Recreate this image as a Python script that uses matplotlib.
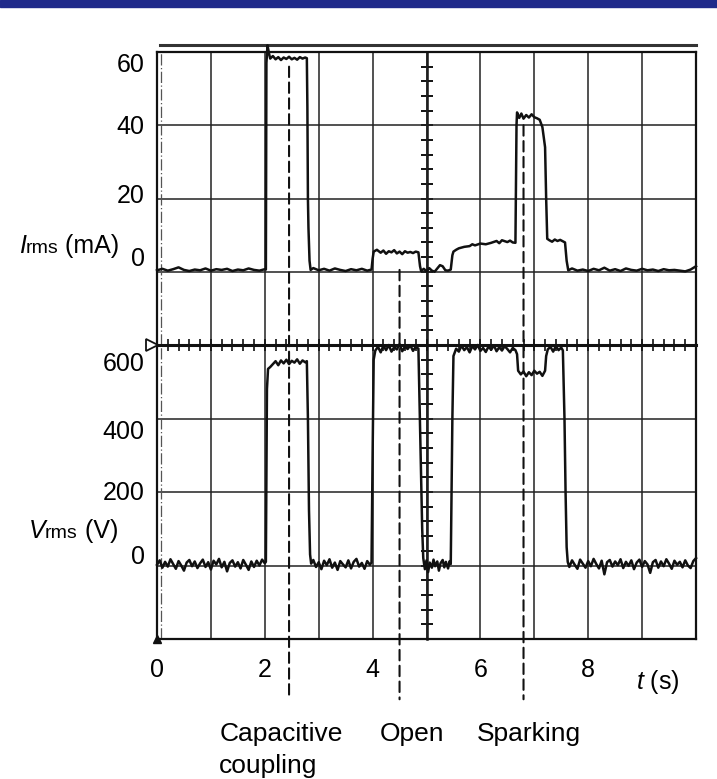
import matplotlib
matplotlib.use('Agg')
import matplotlib.pyplot as plt
from matplotlib.ticker import MultipleLocator
from matplotlib.patches import Rectangle, ConnectionPatch
from matplotlib.offsetbox import TextArea, HPacker, AnnotationBbox
from matplotlib.transforms import blended_transform_factory

plt.rcParams['font.family'] = ['Liberation Sans', 'DejaVu Sans']
plt.rcParams['mathtext.fontset'] = 'custom'
plt.rcParams['mathtext.it'] = 'Liberation Sans:italic'
plt.rcParams['mathtext.rm'] = 'Liberation Sans'

# current trace, Irms (mA) vs t (s)
t_cur = [0.0, 0.1, 0.2, 0.3, 0.4, 0.5, 0.6, 0.7, 0.8, 0.9, 1.0, 1.1, 1.2, 1.3, 1.4, 1.5, 1.6, 1.7, 1.8, 1.9, 2.0,
         2.02, 2.03, 2.05, 2.08, 2.1, 2.15, 2.2, 2.25, 2.3, 2.35, 2.4, 2.45, 2.5, 2.55, 2.6, 2.65, 2.7, 2.75, 2.78,
         2.79, 2.80, 2.81, 2.83, 2.85,
         2.9, 3.0, 3.1, 3.2, 3.3, 3.4, 3.5, 3.6, 3.7, 3.8, 3.9, 3.98,
         4.0, 4.02, 4.08, 4.15, 4.2, 4.25, 4.3, 4.35, 4.4, 4.45, 4.5, 4.55, 4.6, 4.65, 4.7, 4.75, 4.8, 4.85,
         4.88, 4.9, 4.95, 5.0, 5.05, 5.1, 5.15, 5.2, 5.25, 5.3, 5.35, 5.4, 5.45,
         5.48, 5.5, 5.55, 5.6, 5.7, 5.8, 5.85, 5.9, 6.0, 6.1, 6.2, 6.3, 6.35, 6.4, 6.5, 6.55, 6.6, 6.65,
         6.67, 6.68, 6.72, 6.76, 6.8, 6.85, 6.9, 6.95, 7.0, 7.05, 7.1, 7.15, 7.2, 7.22, 7.24, 7.28, 7.33, 7.38,
         7.43, 7.48, 7.53, 7.57, 7.6, 7.63,
         7.7, 7.8, 7.9, 8.0, 8.1, 8.2, 8.3, 8.4, 8.5, 8.6, 8.7, 8.8, 8.9, 9.0, 9.1, 9.2, 9.3, 9.4, 9.5, 9.6,
         9.7, 9.8, 9.9, 10.0]
i_cur = [0.4, 0.8, 0.3, 0.7, 1.2, 0.5, 0.2, 0.6, 0.4, 0.9, 0.3, 0.7, 0.5, 0.8, 0.2, 0.6, 0.4, 0.9, 0.5, 0.3, 0.7,
         0.6, 57.0, 61.8, 59.5, 58.2, 58.9, 58.0, 58.6, 57.8, 58.5, 58.1, 58.7, 58.0, 58.4, 57.9, 58.6, 58.2, 58.5, 58.3,
         45.0, 20.0, 12.0, 3.0, 0.5,
         1.0, 0.4, 0.8, 0.3, 0.9, 0.5, 0.2, 0.7, 0.4, 0.8, 0.3, 0.6,
         3.5, 5.5, 6.0, 5.2, 5.8, 4.9, 5.6, 5.3, 5.9, 5.0, 5.5, 4.8, 5.6, 5.2, 5.4, 5.1, 5.5, 5.3,
         1.5, 0.2, 0.8, 0.1, 1.0, 0.3, 0.0, 0.9, 1.8, 1.5, 0.4, 0.3, 0.6,
         4.5, 5.5, 6.0, 6.4, 6.8, 7.0, 7.5, 7.2, 7.7, 7.5, 7.9, 8.4, 7.8, 8.6, 8.1, 8.5, 8.0, 7.9,
         40.0, 43.5, 42.0, 43.2, 41.8, 42.8, 42.1, 43.0, 42.2, 41.9, 41.5, 39.5, 34.0, 20.0, 9.0, 8.6, 8.2, 8.8,
         8.4, 8.7, 8.3, 8.0, 3.0, 0.4,
         0.9, 0.3, 0.6, 0.2, 0.8, 0.4, 1.1, 0.3, 0.7, 0.2, 0.9, 0.5, 0.3, 0.8, 0.4, 0.6, 0.2, 0.7, 0.4, 0.5,
         0.3, 0.1, 0.6, 1.5]

# voltage trace, Vrms (V) vs t (s)
t_volt = [0.0, 0.05, 0.1, 0.15, 0.2, 0.25, 0.3, 0.35, 0.4, 0.45, 0.5, 0.55, 0.6, 0.65, 0.7, 0.75, 0.8, 0.85,
          0.9, 0.95, 1.0, 1.05, 1.1, 1.15, 1.2, 1.25, 1.3, 1.35, 1.4, 1.45, 1.5, 1.55, 1.6, 1.65, 1.7, 1.75,
          1.8, 1.85, 1.9, 1.95, 2.0,
          2.02, 2.04, 2.06, 2.1, 2.15, 2.2, 2.25, 2.3, 2.35, 2.4, 2.45, 2.5, 2.55, 2.6, 2.65, 2.7, 2.75, 2.78,
          2.8, 2.82, 2.84, 2.86,
          2.9, 2.95, 3.0, 3.05, 3.1, 3.15, 3.2, 3.25, 3.3, 3.35, 3.4, 3.45, 3.5, 3.55, 3.6, 3.65, 3.7, 3.75,
          3.8, 3.85, 3.9, 3.95, 3.98,
          4.0, 4.02, 4.05, 4.1, 4.15, 4.2, 4.25, 4.3, 4.35, 4.4, 4.45, 4.5, 4.55, 4.6, 4.65, 4.7, 4.75, 4.8, 4.85,
          4.87, 4.9, 4.92, 4.94,
          4.97, 5.0, 5.03, 5.06, 5.1, 5.13, 5.16, 5.2, 5.23, 5.26, 5.3, 5.33, 5.36, 5.4, 5.43, 5.45,
          5.48, 5.5, 5.55, 5.6, 5.65, 5.7, 5.75, 5.8, 5.85, 5.9, 5.95, 6.0, 6.05, 6.1, 6.15, 6.2, 6.25, 6.3,
          6.35, 6.4, 6.45, 6.5, 6.55, 6.6, 6.65, 6.68,
          6.7, 6.75, 6.8, 6.85, 6.9, 6.95, 7.0, 7.05, 7.1, 7.15, 7.2, 7.22,
          7.25, 7.3, 7.35, 7.4, 7.45, 7.5, 7.53,
          7.56, 7.58, 7.6, 7.62,
          7.65, 7.7, 7.75, 7.8, 7.85, 7.9, 7.95, 8.0, 8.05, 8.1, 8.15, 8.2, 8.25, 8.3, 8.35, 8.4, 8.45, 8.5,
          8.55, 8.6, 8.65, 8.7, 8.75, 8.8, 8.85, 8.9, 8.95, 9.0, 9.05, 9.1, 9.15, 9.2, 9.25, 9.3, 9.35, 9.4,
          9.45, 9.5, 9.55, 9.6, 9.65, 9.7, 9.75, 9.8, 9.85, 9.9, 9.95, 10.0]
v_volt = [2, 14, -6, 10, -3, 17, 4, -9, 12, 0, -14, 8, 15, -2, 11, -7, 6, 16,
          -4, 9, -11, 13, 3, 18, -5, 10, -16, 7, 14, -3, 9, -8, 15, 2, -12, 11,
          -4, 13, 0, 16, 6,
          10, 480, 535, 540, 548, 556, 545, 558, 550, 560, 548, 557, 552, 561, 549, 558, 553, 556,
          400, 150, 30, 5,
          15, -4, 9, -10, 13, 1, 17, -6, 8, -12, 12, 3, -5, 14, -8, 10, 18, -3,
          7, -9, 12, 2, 8,
          300, 560, 585, 595, 580, 598, 586, 600, 582, 594, 588, 602, 583, 596, 589, 599, 584, 595, 590,
          450, 250, 100, 20,
          -10, 14, -18, 8, -6, 16, -2, 11, -14, 6, 15, -5, 10, -8, 12, 4,
          400, 570, 590, 582, 598, 586, 594, 580, 597, 588, 600, 584, 592, 581, 596, 587, 599, 583,
          594, 585, 597, 589, 580, 592, 586, 575,
          530, 520, 528, 515, 526, 518, 530, 522, 527, 516, 530, 570,
          588, 595, 582, 597, 586, 593, 585,
          400, 200, 50, 10,
          -4, 14, 2, -9, 16, 5, -6, 12, -2, 18, 4, -8, 13, -24, 9, 15, -3, 11,
          1, 17, -7, 10, -1, 14, -10, 8, 16, -4, 12, 3, -20, 9, 15, -6, 11, -2,
          17, 5, -9, 13, 2, 10, -5, 14, 0, -7, 12, 20]
assert len(t_volt) == len(v_volt) and len(t_cur) == len(i_cur)

i_ticks = [0, 20, 40, 60]
i_tick_dy = [9, 2, -1.5, -9.5]        # label nudges in points
v_ticks = [0, 200, 400, 600]
v_tick_dy = [6, -0.5, -9.5, -14]
t_ticks = [0, 2, 4, 6, 8]

events = ['Capacitive\ncoupling', 'Open', 'Sparking']
event_t = [2.45, 4.5, 6.8]
event_top = [56, 0.5, 40]      # mA, where the dashed marker starts
event_label_t = [2.30, 4.73, 6.90]

FS = 18
INK = '#111111'

fig = plt.figure(figsize=(7.17, 7.79), dpi=100)
fig.patches.append(Rectangle((0, 1 - 7 / 779), 1, 7 / 779, transform=fig.transFigure,
                             color='#1f2a8a', zorder=0))

L, W = 157 / 717, (696 - 157) / 717
ax1 = fig.add_axes([L, 1 - 345 / 779, W, 293 / 779])
ax2 = fig.add_axes([L, 1 - 639 / 779, W, 294 / 779])

for ax in (ax1, ax2):
    ax.set_xlim(0, 10)
    ax.set_xticks(range(11))
    ax.grid(True, which='major', color='#222222', lw=1.1)
    for sp in ax.spines.values():
        sp.set_linewidth(1.6)
        sp.set_color(INK)
    ax.tick_params(axis='y', length=0, labelleft=False)
    # trigger line near t=0
    ax.axvline(0.075, color='#555555', lw=0.9, ls=(0, (9, 2, 1, 2)))

ax1.set_ylim(-20, 60)
ax1.set_yticks(range(-20, 61, 20))
ax1.tick_params(axis='x', bottom=False, labelbottom=False)
ax1.spines['bottom'].set_visible(False)

ax2.set_ylim(-200, 600)
ax2.set_yticks(range(-200, 601, 200))
ax2.set_xticklabels([str(t) if t in t_ticks else '' for t in range(11)], fontsize=FS)
ax2.xaxis.set_minor_locator(MultipleLocator(0.2))
ax2.tick_params(axis='x', which='both', bottom=False, top=True, direction='inout',
                length=9, width=1.2, color=INK, labelbottom=True, pad=9)
ax2.spines['top'].set_linewidth(2.2)

# center vertical line with small ticks
for ax, major, minor in ((ax1, 20, 4), (ax2, 200, 40)):
    sec = ax.secondary_yaxis(0.5)
    sec.yaxis.set_major_locator(MultipleLocator(major))
    sec.yaxis.set_minor_locator(MultipleLocator(minor))
    sec.tick_params(which='both', direction='inout', length=8, width=1.4, color=INK,
                    labelleft=False, labelright=False)
    for sp in sec.spines.values():
        sp.set_linewidth(1.8)
        sp.set_color(INK)

ax1.plot(t_cur, i_cur, color=INK, lw=1.8, clip_on=False, zorder=5)
ax2.plot(t_volt, v_volt, color=INK, lw=1.8, clip_on=False, zorder=5)

# y tick labels
for v, dy in zip(i_ticks, i_tick_dy):
    ax1.annotate(str(v), xy=(0, v), xycoords=('axes fraction', 'data'), xytext=(-9, dy),
                 textcoords='offset points', ha='right', va='center', fontsize=FS)
for v, dy in zip(v_ticks, v_tick_dy):
    ax2.annotate(str(v), xy=(0, v), xycoords=('axes fraction', 'data'), xytext=(-9, dy),
                 textcoords='offset points', ha='right', va='center', fontsize=FS)

# axis labels
def unit_label(ax, sym, unit, yval, dx):
    box = HPacker(children=[TextArea(sym, textprops=dict(fontsize=FS, style='italic')),
                            TextArea('rms', textprops=dict(fontsize=FS * 0.78)),
                            TextArea(' ' + unit, textprops=dict(fontsize=FS))],
                  align='baseline', pad=0, sep=0)
    ab = AnnotationBbox(box, (0, yval), xycoords=('axes fraction', 'data'), xybox=(dx, 0),
                        boxcoords='offset points', box_alignment=(1, 0.5), frameon=False)
    ax.add_artist(ab)

unit_label(ax1, 'I', '(mA)', 7, -27)
unit_label(ax2, 'V', '(V)', 93, -28)

ax2.annotate('$t$ (s)', xy=(9.3, 0), xycoords=('data', 'axes fraction'), xytext=(0, -21),
             textcoords='offset points', ha='center', va='top', fontsize=FS)

# dashed event markers and their labels
bot = blended_transform_factory(ax2.transData, ax2.transAxes)
for name, t, top, tl in zip(events, event_t, event_top, event_label_t):
    con = ConnectionPatch(xyA=(t, top), coordsA=ax1.transData, xyB=(t, -0.205), coordsB=bot,
                          color=INK, lw=1.5, linestyle=(0, (5, 2.6)), zorder=6)
    fig.add_artist(con)
    ax2.annotate(name, xy=(tl, 0), xycoords=('data', 'axes fraction'), xytext=(0, -60),
                 textcoords='offset points', ha='center', va='top', multialignment='left',
                 fontsize=19, linespacing=1.4)

# scope decorations: double top rule, ground marker, origin marker
ax1.plot([0.005, 1.0], [1.024, 1.024], transform=ax1.transAxes, color='#333333', lw=2.2,
         clip_on=False)
ax2.plot([-0.009], [1.0], transform=ax2.transAxes, marker='>', ms=9, mfc='white', mec=INK,
         mew=1.3, clip_on=False, zorder=7)
ax2.plot([0], [0], transform=ax2.transAxes, marker='^', ms=6, color=INK, clip_on=False, zorder=7)

fig.savefig('out.png', dpi=100)
